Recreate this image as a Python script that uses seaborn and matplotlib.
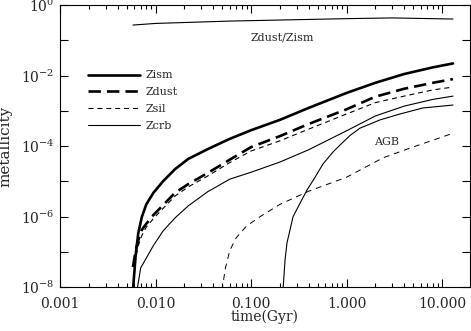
import numpy as np
import pandas as pd
import seaborn as sns
import matplotlib
matplotlib.use("Agg")
import matplotlib.pyplot as plt

# data (time in Gyr, metallicity)
t_main = [0.0058, 0.0062, 0.0066, 0.0072, 0.008, 0.0095, 0.012, 0.016, 0.022, 0.035,
          0.06, 0.1, 0.2, 0.4, 1.0, 2.0, 4.0, 8.0, 13.0]
z_ism = [8e-9, 8.1e-8, 3.4e-7, 9.8e-7, 2.2e-6, 4.7e-6, 1.0e-5, 2.2e-5, 4.3e-5, 8.1e-5,
         1.6e-4, 2.8e-4, 5.5e-4, 1.2e-3, 3.2e-3, 6.2e-3, 1.1e-2, 1.7e-2, 2.2e-2]
z_dust = [3.7e-8, 1.1e-7, 2.1e-7, 4.2e-7, 6.2e-7, 1.1e-6, 2.1e-6, 4.7e-6, 8.3e-6, 1.7e-5,
          4.1e-5, 9.3e-5, 1.9e-4, 4.2e-4, 1.1e-3, 2.5e-3, 4.2e-3, 6.2e-3, 7.9e-3]
z_sil = [8e-9, 6.6e-8, 1.5e-7, 2.9e-7, 5.0e-7, 8.7e-7, 1.7e-6, 3.8e-6, 6.9e-6, 1.4e-5,
         3.4e-5, 7.2e-5, 1.4e-4, 3.0e-4, 8.1e-4, 1.7e-3, 2.6e-3, 3.9e-3, 4.7e-3]

t_crb = [0.0064, 0.007, 0.008, 0.0095, 0.012, 0.016, 0.022, 0.035, 0.06, 0.1, 0.2, 0.4,
         1.0, 2.0, 4.0, 8.0, 13.0]
z_crb = [8e-9, 3.5e-8, 6.6e-8, 1.5e-7, 3.9e-7, 9.1e-7, 2.0e-6, 5.0e-6, 1.15e-5, 1.8e-5,
         3.5e-5, 7.8e-5, 2.7e-4, 7.1e-4, 1.35e-3, 2.1e-3, 2.6e-3]

t_agb_sil = [0.0496, 0.054, 0.06, 0.07, 0.09, 0.125, 0.2, 0.4, 1.0, 2.4, 4.6, 13.0]
z_agb_sil = [8e-9, 3.5e-8, 1.1e-7, 2.5e-7, 5.4e-7, 1.0e-6, 2.2e-6, 5.2e-6, 1.3e-5,
             4.6e-5, 8.7e-5, 2.3e-4]

t_agb_crb = [0.216, 0.227, 0.238, 0.256, 0.275, 0.326, 0.385, 0.468, 0.567, 0.723, 0.855,
             1.09, 1.38, 2.24, 3.63, 6.3, 13.0]
z_agb_crb = [8e-9, 5.9e-8, 1.8e-7, 4.2e-7, 9.8e-7, 2.4e-6, 5.6e-6, 1.3e-5, 3.1e-5, 6.8e-5,
             1.07e-4, 2.0e-4, 3.2e-4, 5.5e-4, 8.1e-4, 1.2e-3, 1.45e-3]

t_ratio = [0.0058, 0.01, 0.06, 1.0, 3.0, 13.0]
z_ratio = [0.27, 0.30, 0.35, 0.41, 0.43, 0.40]

xticks = [0.001, 0.01, 0.1, 1.0, 10.0]
xtick_labels = ["0.001", "0.010", "0.100", "1.000", "10.000"]
yticks = [1e-8, 1e-6, 1e-4, 1e-2, 1e0]
ytick_labels = [r"$10^{-8}$", r"$10^{-6}$", r"$10^{-4}$", r"$10^{-2}$", r"$10^{0}$"]

sns.set_style("ticks")
plt.rcParams["font.family"] = ["DejaVu Serif"]
plt.rcParams["mathtext.fontset"] = "dejavuserif"

fig = plt.figure(figsize=(4.71, 3.31), dpi=100)
ax = fig.add_axes([60 / 471, 44 / 331, 410 / 471, 282 / 331])


def draw(t, z, **kw):
    df = pd.DataFrame({"t": t, "z": z})
    sns.lineplot(data=df, x="t", y="z", ax=ax, color="black", errorbar=None, **kw)


draw(t_main, z_ism, lw=1.9, label="Zism")
draw(t_main, z_dust, lw=1.9, linestyle=(0, (4.7, 2.3)), label="Zdust")
draw(t_main, z_sil, lw=0.8, linestyle=(0, (4.5, 3.5)), label="Zsil")
draw(t_crb, z_crb, lw=0.8, label="Zcrb")
draw(t_agb_sil, z_agb_sil, lw=0.7, linestyle=(0, (6, 5)))
draw(t_agb_crb, z_agb_crb, lw=0.8)
draw(t_ratio, z_ratio, lw=0.8)

ax.set_xscale("log")
ax.set_yscale("log")
ax.set_xlim(0.001, 19.6)
ax.set_ylim(1e-8, 1)

ax.set_xticks(xticks)
ax.set_xticklabels(xtick_labels)
ax.set_yticks(yticks)
ax.set_yticklabels(ytick_labels)
ax.xaxis.set_minor_locator(matplotlib.ticker.LogLocator(base=10, subs=np.arange(2, 10)))
ax.xaxis.set_minor_formatter(matplotlib.ticker.NullFormatter())
ax.set_yticks([1e-7, 1e-5, 1e-3, 1e-1], minor=True)
ax.yaxis.set_minor_formatter(matplotlib.ticker.NullFormatter())

ax.tick_params(which="both", direction="in", top=True, right=True, width=0.8,
               labelsize=10, color="black")
ax.tick_params(axis="x", which="major", length=6, pad=7)
ax.tick_params(axis="x", which="minor", length=3)
ax.tick_params(axis="y", which="both", length=6, pad=4)
for s in ax.spines.values():
    s.set_linewidth(0.8)
    s.set_color("black")

ax.set_xlabel("time(Gyr)", fontsize=10)
ax.set_ylabel("metallicity", fontsize=11)
ax.xaxis.set_label_coords(0.5, -0.08)
ax.yaxis.set_label_coords(-0.115, 0.5)

ax.text(0.21, 0.116, "Zdust/Zism", fontsize=8, ha="center", va="center")
ax.text(2.6, 1.3e-4, "AGB", fontsize=8, ha="center", va="center")

handles, labels = ax.get_legend_handles_labels()
ax.legend(handles, labels, loc="upper left", bbox_to_anchor=(0.068, 0.768),
          frameon=False, fontsize=8, handlelength=4.7, handletextpad=0.5,
          labelspacing=0.62, borderpad=0, borderaxespad=0)

fig.savefig("out.png", dpi=100)
